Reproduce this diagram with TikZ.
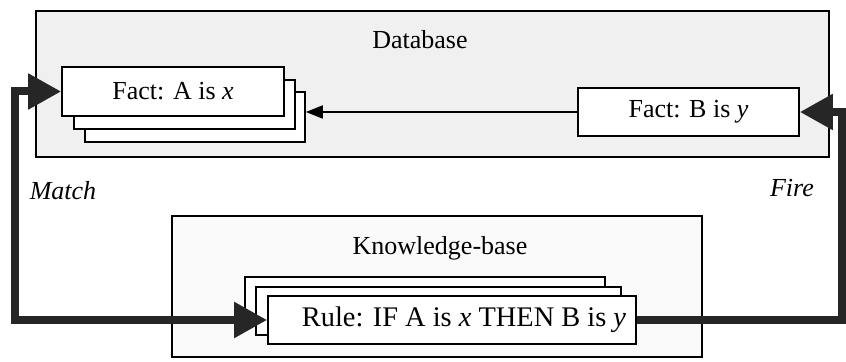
\documentclass[tikz,border=0pt]{standalone}
\usepackage{fontspec}
\setmainfont{Liberation Serif}
\usetikzlibrary{arrows.meta}
\tikzset{
  bigtip/.tip={Triangle[length=16.5pt,width=17pt]},
  smalltip/.tip={Triangle[length=8.5pt,width=6.5pt]}}
\begin{document}
\begin{tikzpicture}[x=0.5pt,y=-0.5pt,
  every node/.style={font=\fontsize{13}{15}\selectfont},
  panel/.style={draw=black,line width=0.8pt},
  card/.style={draw=black,fill=white,line width=0.8pt,inner sep=0pt},
  caption/.style={font=\fontsize{13}{15}\selectfont\itshape},
  flow/.style={line width=4pt,line join=miter,draw=black!85},
  thinflow/.style={-smalltip,line width=0.8pt}]
\useasboundingbox (0,0) rectangle (846,362);

% Database panel
\draw[panel,fill=black!6] (36,11) rectangle (829,157);
\node (dbl) at (420,40) {Database};

% stacked facts
\node[card,minimum width=110pt,minimum height=25pt] (factA3) at (195,117) {};
\node[card,minimum width=110.5pt,minimum height=24.5pt] (factA2) at (184.5,104.5) {};
\node[card,minimum width=111pt,minimum height=24.5pt] (factA) at (173,91.5) {Fact: A is \textit{x}};
\node[card,minimum width=110.5pt,minimum height=24pt] (factB) at (688.5,112) {Fact: B is \textit{y}};

\draw[thinflow] (factB.west) -- (factB.west -| factA3.east);

% Knowledge-base panel
\draw[panel,fill=black!2] (172,216) rectangle (702,357);
\node (kbl) at (440,248) {Knowledge-base};

% stacked rules
\node[card,minimum width=180pt,minimum height=24pt] (rule3) at (425,301) {};
\node[card,minimum width=182.5pt,minimum height=24pt] (rule2) at (438.5,311) {};
\node[card,minimum width=184pt,minimum height=24pt,font=\fontsize{14.2}{16}\selectfont] (rule) at (452,320) {\hspace*{12pt}Rule: IF A is \textit{x} THEN B is \textit{y}};

% match and fire loops
\coordinate (lx) at (15,0);
\coordinate (rx) at (842,0);
\draw[flow,bigtip-bigtip] (factA.west) -- (factA.west -| lx) -- (rule.west -| lx) -- (rule.west);
\draw[flow,-bigtip] (rule.east) -- (rule.east -| rx) -- (factB.east -| rx) -- (factB.east);

\node[caption] (match) at (63,191) {Match};
\node[caption] (fire) at (792,188) {Fire};
\end{tikzpicture}
\end{document}
